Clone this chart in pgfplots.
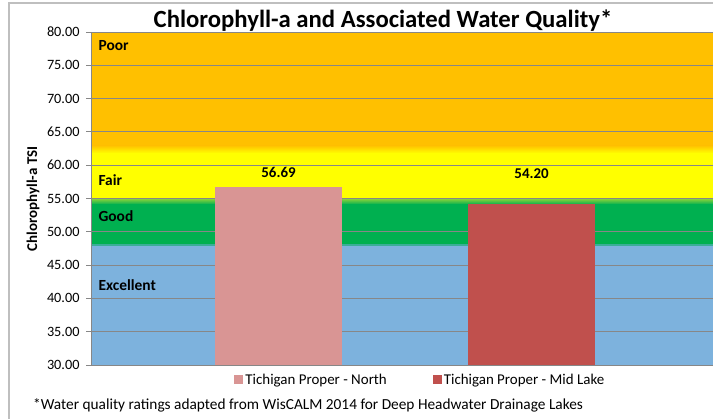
\documentclass[border=0pt]{standalone}
\usepackage{fontspec}
\setmainfont{Carlito}
\usepackage{pgfplots}
\pgfplotsset{compat=1.18}
\definecolor{cPoor}{HTML}{FFC000}
\definecolor{cFair}{HTML}{FFFF00}
\definecolor{cLime}{HTML}{8FD43A}
\definecolor{cGood}{HTML}{00B050}
\definecolor{cTeal}{HTML}{3AAE98}
\definecolor{cExc}{HTML}{7DB2DD}
\definecolor{cNorth}{HTML}{D99594}
\definecolor{cMid}{HTML}{C0504D}
\definecolor{gridgray}{HTML}{878787}
\definecolor{framegray}{HTML}{BFBFBF}
\begin{document}
\begin{tikzpicture}
\begin{axis}[
  set layers,
  at={(0,0)}, anchor=south west,
  scale only axis, width=622bp, height=333bp,
  xmin=0.259, xmax=2.717, ymin=30, ymax=80,
  ytick={30,35,...,80},
  xtick=\empty,
  ymajorgrids,
  grid style={draw=gridgray, line width=0.9bp},
  axis x line*=bottom, axis y line*=left,
  axis line style={draw=gridgray, line width=0.9bp},
  tick style={draw=gridgray, line width=0.9bp},
  major tick length=5bp, tick align=outside,
  /pgf/number format/assume math mode=true,
  yticklabel style={font=\fontsize{14.3}{14.3}\selectfont, xshift=-3bp, /pgf/number format/fixed, /pgf/number format/fixed zerofill, /pgf/number format/precision=2},
  legend style={at={(0.5295,-0.045)}, anchor=center, draw=none, fill=none,
    font=\fontsize{15}{15}\selectfont, legend columns=2,
    /tikz/every even column/.append style={column sep=44bp}},
  legend image code/.code={\fill[#1] (0bp,-4.5bp) rectangle (9bp,4.5bp);},
]
% quality bands
\addplot[draw=none, fill=cPoor, on layer=axis background, forget plot] coordinates {(0.259,63) (2.717,63) (2.717,80) (0.259,80)};
\addplot[draw=none, top color=cPoor, bottom color=cFair, on layer=axis background, forget plot] coordinates {(0.259,61.8) (2.717,61.8) (2.717,63) (0.259,63)};
\addplot[draw=none, fill=cFair, on layer=axis background, forget plot] coordinates {(0.259,55) (2.717,55) (2.717,61.8) (0.259,61.8)};
\addplot[draw=none, top color=cLime, bottom color=cGood, on layer=axis background, forget plot] coordinates {(0.259,54.1) (2.717,54.1) (2.717,55) (0.259,55)};
\addplot[draw=none, fill=cGood, on layer=axis background, forget plot] coordinates {(0.259,48.2) (2.717,48.2) (2.717,54.1) (0.259,54.1)};
\addplot[draw=none, fill=cTeal, on layer=axis background, forget plot] coordinates {(0.259,47.8) (2.717,47.8) (2.717,48.2) (0.259,48.2)};
\addplot[draw=none, fill=cExc, on layer=axis background, forget plot] coordinates {(0.259,30) (2.717,30) (2.717,47.8) (0.259,47.8)};
% bars
\addplot[ybar, bar width=0.502, fill=cNorth, draw=none] coordinates {(1,56.69)};
\addlegendentry{Tichigan Proper - North}
\addplot[ybar, bar width=0.502, fill=cMid, draw=none] coordinates {(2,54.20)};
\addlegendentry{Tichigan Proper - Mid Lake}
% data labels
\node[font=\bfseries\fontsize{15}{15}\selectfont] at (axis cs:1,58.98) {56.69};
\node[font=\bfseries\fontsize{15}{15}\selectfont] at (axis cs:2,58.68) {54.20};
% band labels
\node[anchor=west, font=\bfseries\fontsize{15.5}{15.5}\selectfont] at (axis cs:0.275,77.9) {Poor};
\node[anchor=west, font=\bfseries\fontsize{15.5}{15.5}\selectfont] at (axis cs:0.275,57.8) {Fair};
\node[anchor=west, font=\bfseries\fontsize{15.5}{15.5}\selectfont] at (axis cs:0.275,52.4) {Good};
\node[anchor=west, font=\bfseries\fontsize{15.5}{15.5}\selectfont] at (axis cs:0.275,42.0) {Excellent};
\end{axis}
\node[font=\bfseries\fontsize{24.8}{24.8}\selectfont] at (292bp,344bp) {Chlorophyll-a and Associated Water Quality*};
\node[rotate=90, font=\bfseries\fontsize{15}{15}\selectfont] at (-58bp,166bp) {Chlorophyll-a TSI};
\node[anchor=west, inner sep=0pt, font=\fontsize{15.4}{15.4}\selectfont] at (-58bp,-40bp) {*Water quality ratings adapted from WisCALM 2014 for Deep Headwater Drainage Lakes};
\draw[framegray, line width=1.2bp] (-82bp,-60bp) -- (-82bp,362bp) -- (630bp,362bp);
\pgfresetboundingbox
\path[use as bounding box] (-91bp,-54bp) rectangle (622bp,365bp);
\end{tikzpicture}
\end{document}
